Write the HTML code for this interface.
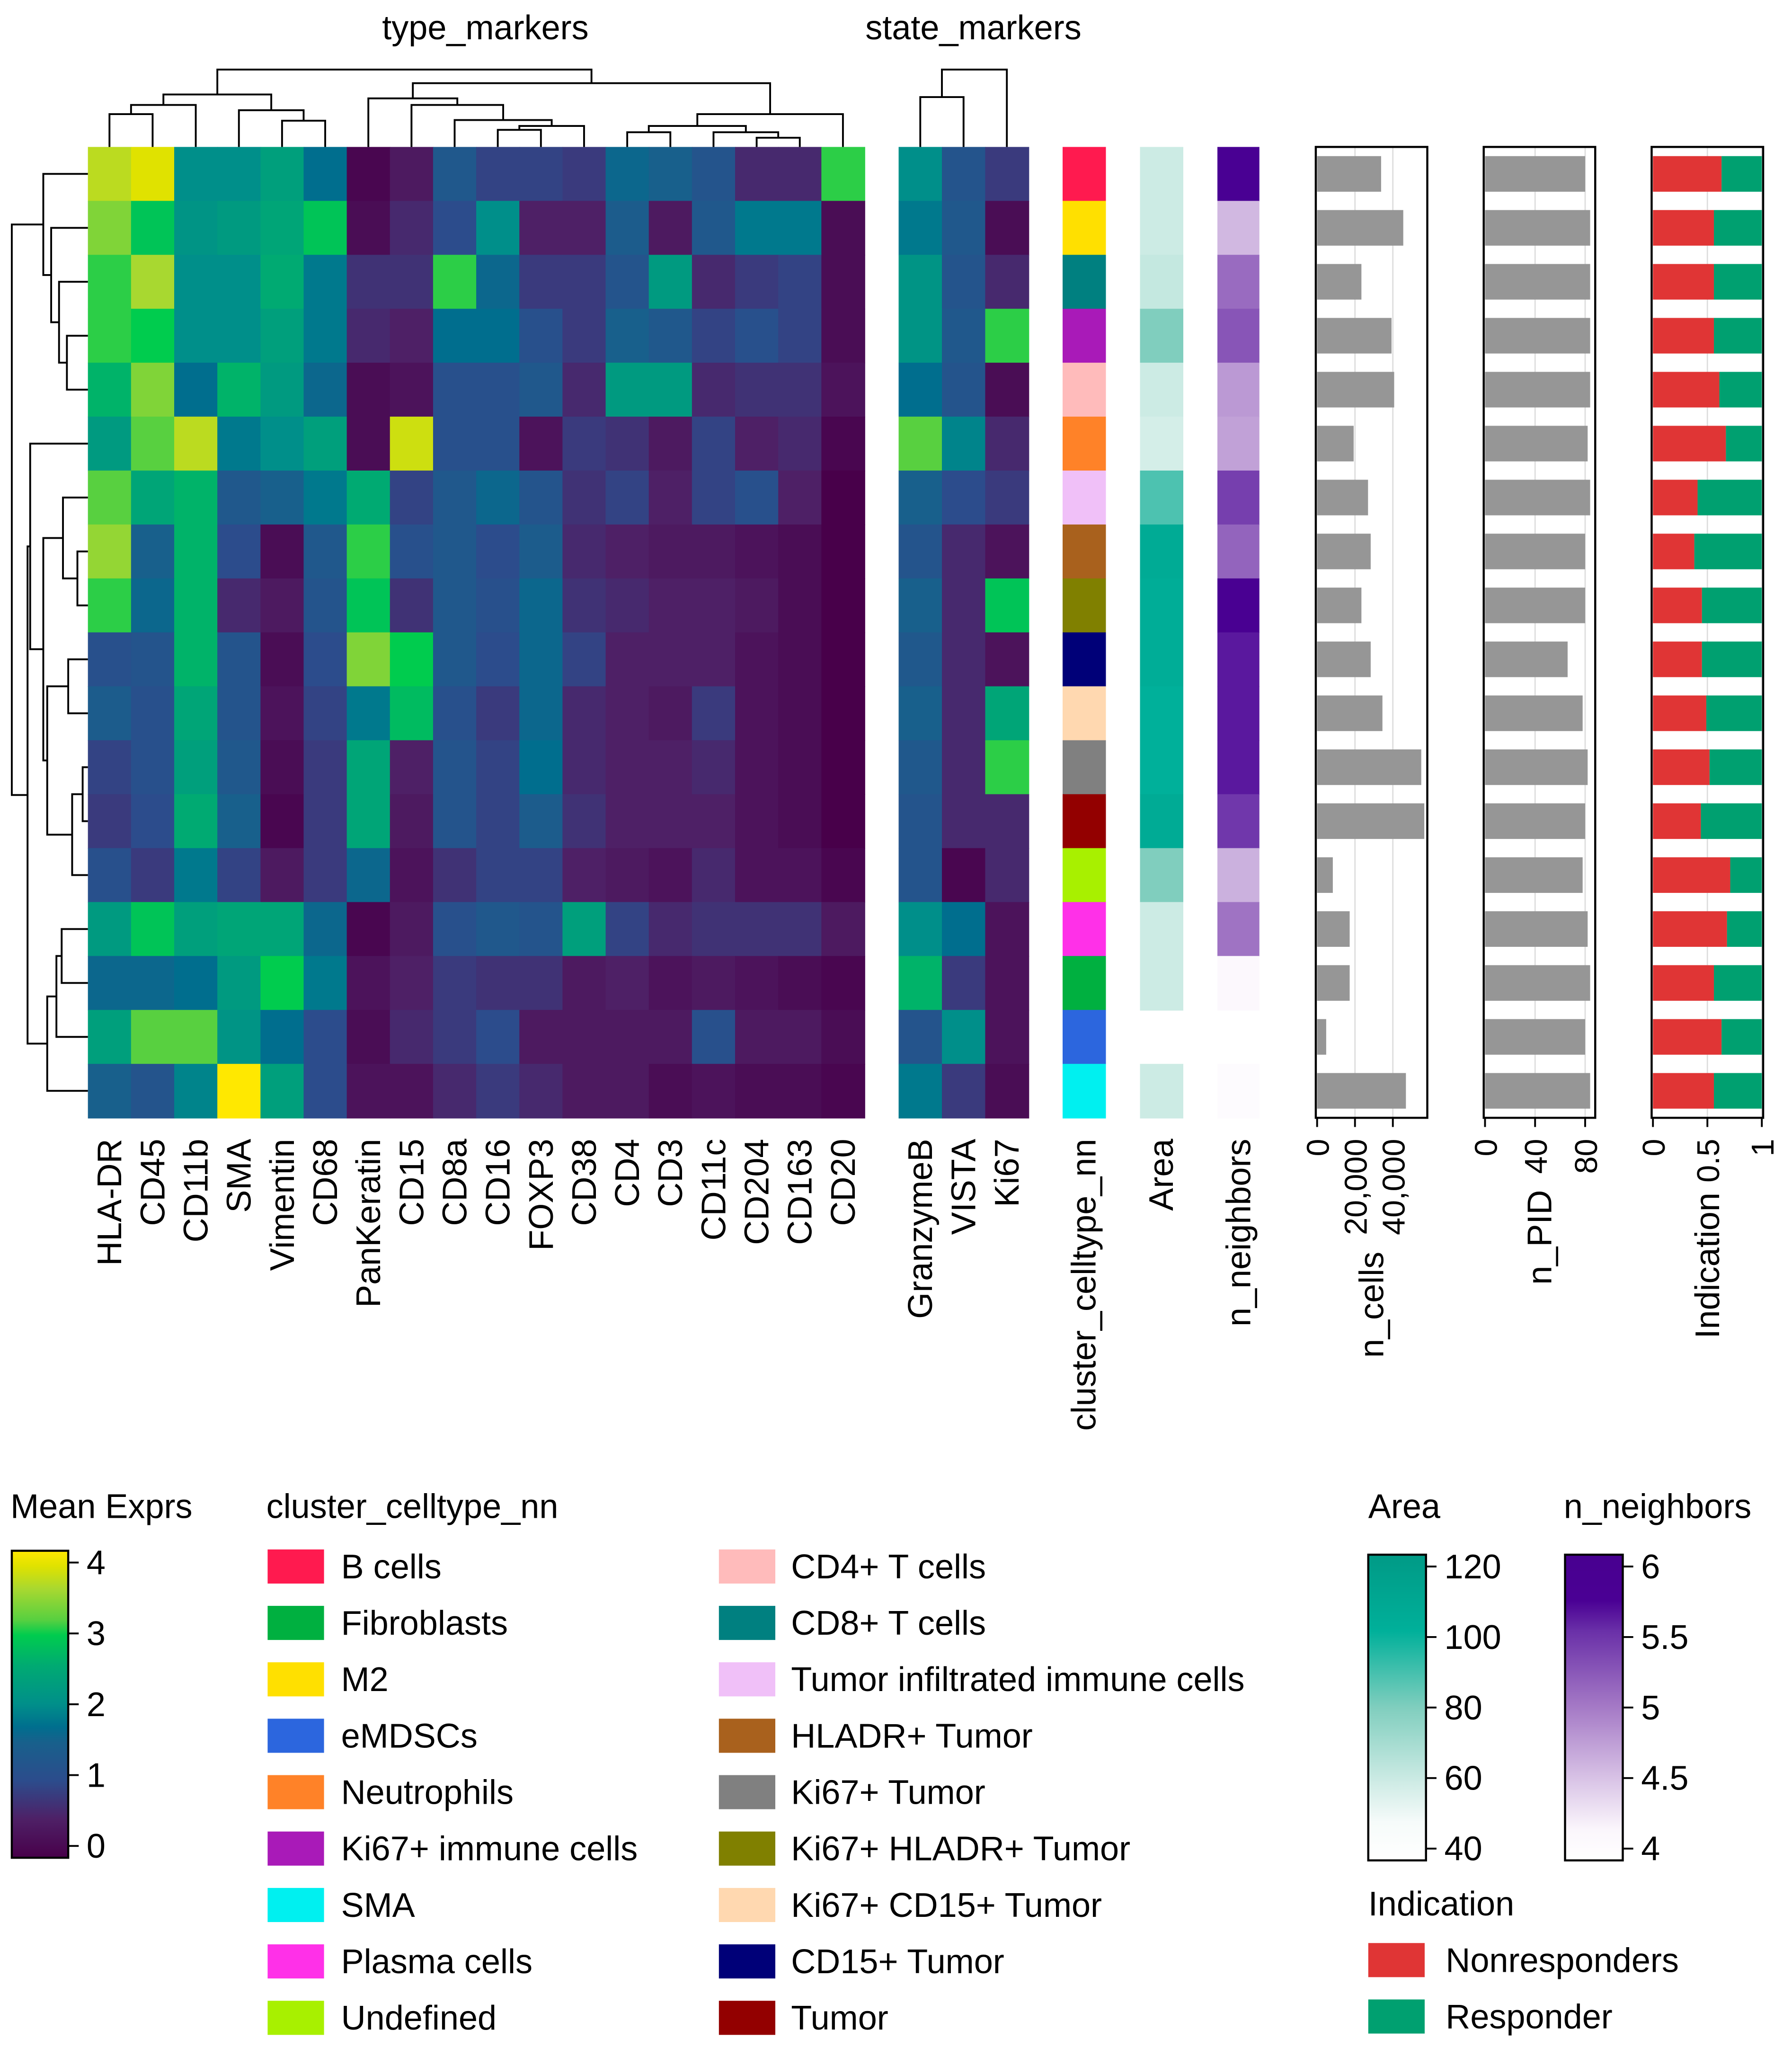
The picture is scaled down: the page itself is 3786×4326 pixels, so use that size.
<!DOCTYPE html>
<html><head><meta charset="utf-8"><style>
html,body{margin:0;padding:0;background:#fff}
svg{display:block}
text{font-family:"Liberation Sans",sans-serif;fill:#000}
</style></head><body>
<svg id="chart" width="3786" height="4326" viewBox="0 0 1366 1561" preserveAspectRatio="none" xmlns="http://www.w3.org/2000/svg">
<g id="root"></g>
</svg>
<script>
const typeMarkers = ["HLA-DR","CD45","CD11b","SMA","Vimentin","CD68","PanKeratin","CD15","CD8a","CD16","FOXP3","CD38","CD4","CD3","CD11c","CD204","CD163","CD20"];
const stateMarkers = ["GranzymeB","VISTA","Ki67"];
const clusters = ["B cells","M2","CD8+ T cells","Ki67+ immune cells","CD4+ T cells","Neutrophils","Tumor infiltrated immune cells","HLADR+ Tumor","Ki67+ HLADR+ Tumor","CD15+ Tumor","Ki67+ CD15+ Tumor","Ki67+ Tumor","Tumor","Undefined","Plasma cells","Fibroblasts","eMDSCs","SMA"];
const clusterColors = ["#ff1a4f","#ffe000","#008080","#a91ab8","#ffbbbb","#ff8228","#f0c0f8","#a9611d","#808000","#000078","#ffd8b0","#808080","#930000","#a8f000","#ff30e8","#00b040","#2c66de","#00f0f0"];
const typeValues = [
[3.6,3.8,2.0,2.0,2.3,1.7,0.1,0.4,1.3,0.9,0.9,0.8,1.6,1.5,1.2,0.6,0.6,3.0],
[3.3,2.8,2.1,2.2,2.4,2.8,0.2,0.6,1.0,2.0,0.5,0.5,1.4,0.4,1.3,1.8,1.8,0.2],
[3.0,3.5,2.0,2.0,2.5,1.8,0.7,0.7,3.0,1.6,0.8,0.8,1.2,2.2,0.6,0.8,0.9,0.2],
[3.0,2.9,2.0,2.0,2.3,1.8,0.6,0.5,1.7,1.7,1.1,0.8,1.5,1.3,0.9,1.1,0.9,0.2],
[2.6,3.3,1.7,2.6,2.2,1.6,0.2,0.3,1.1,1.1,1.3,0.6,2.2,2.2,0.6,0.7,0.7,0.3],
[2.2,3.1,3.6,1.8,2.0,2.3,0.2,3.7,1.1,1.1,0.3,0.8,0.7,0.4,0.9,0.5,0.6,0.1],
[3.1,2.4,2.6,1.3,1.5,1.8,2.5,0.9,1.3,1.6,1.2,0.7,0.9,0.5,0.9,1.1,0.5,0.0],
[3.4,1.5,2.6,1.0,0.2,1.3,3.0,1.1,1.3,1.0,1.4,0.6,0.5,0.4,0.4,0.3,0.2,0.0],
[3.0,1.6,2.6,0.6,0.4,1.2,2.8,0.7,1.3,1.1,1.6,0.7,0.6,0.5,0.5,0.4,0.2,0.0],
[1.1,1.2,2.6,1.2,0.2,1.0,3.3,2.9,1.3,1.0,1.6,0.9,0.5,0.5,0.5,0.3,0.2,0.0],
[1.4,1.1,2.4,1.2,0.3,0.9,1.8,2.7,1.1,0.8,1.6,0.6,0.5,0.4,0.8,0.3,0.2,0.0],
[0.9,1.1,2.3,1.3,0.2,0.8,2.4,0.5,1.2,0.9,1.7,0.6,0.5,0.5,0.6,0.3,0.2,0.0],
[0.8,1.0,2.5,1.5,0.1,0.8,2.4,0.4,1.2,0.9,1.4,0.7,0.5,0.5,0.5,0.3,0.2,0.0],
[1.1,0.8,1.8,0.9,0.4,0.8,1.6,0.3,0.7,0.9,0.9,0.5,0.4,0.3,0.6,0.3,0.3,0.1],
[2.2,2.8,2.3,2.4,2.4,1.6,0.1,0.4,1.1,1.3,1.2,2.3,0.9,0.6,0.7,0.7,0.7,0.4],
[1.6,1.6,1.7,2.2,2.9,1.8,0.3,0.5,0.8,0.7,0.7,0.4,0.5,0.3,0.4,0.3,0.2,0.1],
[2.3,3.1,3.1,2.1,1.7,1.0,0.2,0.6,0.8,1.0,0.4,0.4,0.4,0.4,1.1,0.4,0.4,0.2],
[1.5,1.2,1.9,4.0,2.3,1.0,0.3,0.3,0.6,0.8,0.6,0.4,0.4,0.2,0.3,0.2,0.2,0.1]];
const stateValues = [
[2.0,1.2,0.8],[1.8,1.3,0.2],[2.1,1.2,0.6],[2.1,1.3,3.0],[1.7,1.2,0.2],[3.1,1.9,0.6],
[1.5,1.0,0.8],[1.2,0.6,0.3],[1.5,0.6,2.8],[1.3,0.6,0.3],[1.5,0.6,2.4],[1.3,0.6,3.0],
[1.2,0.6,0.6],[1.2,0.1,0.6],[2.0,1.7,0.3],[2.6,0.8,0.3],[1.2,2.0,0.3],[1.8,0.8,0.2]];
const areaValues = [61,61,63,80,61,59,88,105,103,103,100,100,105,80,61,61,null,61];
const neighborValues = [5.8,4.6,5.1,5.25,4.8,4.75,5.4,5.15,5.85,5.6,5.6,5.6,5.45,4.65,5.05,4.15,null,4.1];
const nCells = [33800,45500,23400,39300,40700,19300,26900,28300,23400,28300,34500,55000,56600,8300,17200,17200,4800,46900];
const nPID = [80,84,84,84,84,82,84,80,80,66,78,82,80,78,82,84,80,84];
const nonresponderFrac = [0.63,0.56,0.56,0.56,0.61,0.67,0.41,0.38,0.45,0.45,0.49,0.52,0.44,0.71,0.68,0.56,0.63,0.56];
const nCellsTicks = [0,20000,40000];
const nCellsTickLabels = ["0","20,000","40,000"];
const nPIDTicks = [0,40,80];
const nPIDTickLabels = ["0","40","80"];
const indTicks = [0,0.5,1];
const indTickLabels = ["0","0.5","1"];
const exprTicks = [0,1,2,3,4];
const areaTicks = [40,60,80,100,120];
const nbTicks = [4,4.5,5,5.5,6];
const nbTickLabels = ["4","4.5","5","5.5","6"];
const legendLeft = ["B cells","Fibroblasts","M2","eMDSCs","Neutrophils","Ki67+ immune cells","SMA","Plasma cells","Undefined"];
const legendRight = ["CD4+ T cells","CD8+ T cells","Tumor infiltrated immune cells","HLADR+ Tumor","Ki67+ Tumor","Ki67+ HLADR+ Tumor","Ki67+ CD15+ Tumor","CD15+ Tumor","Tumor"];

const NS="http://www.w3.org/2000/svg";
const root=document.getElementById('root');
function el(tag,attrs,parent,txt){const e=document.createElementNS(NS,tag);for(const k in attrs)e.setAttribute(k,attrs[k]);if(txt!==undefined)e.textContent=txt;(parent||root).appendChild(e);return e;}
function hex(h){return [parseInt(h.slice(1,3),16),parseInt(h.slice(3,5),16),parseInt(h.slice(5,7),16)];}
function cmap(stops){return v=>{if(v<=stops[0][0])return stops[0][1];for(let i=1;i<stops.length;i++){if(v<=stops[i][0]){const a=stops[i-1],b=stops[i];const t=(v-a[0])/(b[0]-a[0]);const c1=hex(a[1]),c2=hex(b[1]);return 'rgb('+c1.map((c,j)=>Math.round(c+(c2[j]-c)*t)).join(',')+')';}}return stops[stops.length-1][1];};}
const exprStops=[[0,"#48004a"],[0.5,"#4e2066"],[1,"#2c4c8c"],[1.5,"#18608c"],[1.7,"#006e8e"],[2,"#008f8a"],[2.5,"#00aa72"],[2.9,"#00cc4e"],[3.1,"#58d040"],[3.5,"#a8d830"],[3.8,"#e0e200"],[4,"#ffe800"]];
const areaStops=[[40,"#ffffff"],[50,"#f6fbfa"],[60,"#d0ece6"],[80,"#80cebe"],[100,"#00b09a"],[120,"#009a86"]];
const nbStops=[[4,"#ffffff"],[4.2,"#fbf6fc"],[4.5,"#dcc8e8"],[5,"#a57ac6"],[5.5,"#6a30a8"],[5.7,"#4a0094"],[6,"#480090"]];
const exprC=cmap(exprStops),areaC=cmap(areaStops),nbC=cmap(nbStops);

const HX0=67,HX1=659,HY0=112,HY1=852,NR=clusters.length;
const cw=(HX1-HX0)/typeMarkers.length, rh=(HY1-HY0)/NR;
const rowY=i=>HY0+i*rh;
const colX=j=>HX0+j*cw;
const SX0=685,scw=33;
const stX=j=>SX0+j*scw;

el('text',{x:370,y:30,'font-size':26,'text-anchor':'middle',},root,'type_markers');
el('text',{x:742,y:30,'font-size':26,'text-anchor':'middle',},root,'state_markers');

const hm=el('g',{});
typeValues.forEach((row,i)=>row.forEach((v,j)=>{
  const r=el('rect',{x:colX(j),y:rowY(i),width:cw+0.5,height:rh+0.5,fill:exprC(v)},hm);
  
  
}));
const sm=el('g',{});
stateValues.forEach((row,i)=>row.forEach((v,j)=>{
  const r=el('rect',{x:stX(j),y:rowY(i),width:scw+0.5,height:rh+0.5,fill:exprC(v)},sm);
  
  
}));
const ann=el('g',{});
clusterColors.forEach((c,i)=>{
  const r=el('rect',{x:810,y:rowY(i),width:33,height:rh+0.5,fill:c},ann);
  
  
});
areaValues.forEach((v,i)=>{ if(v===null)return;
  const r=el('rect',{x:869,y:rowY(i),width:33,height:rh+0.5,fill:areaC(v)},ann);
  
  
});
neighborValues.forEach((v,i)=>{ if(v===null)return;
  const r=el('rect',{x:928,y:rowY(i),width:32,height:rh+0.5,fill:nbC(v)},ann);
  
  
});

function vlabel(x,yEnd,txt,name,size){
  const t=el('text',{transform:`translate(${x},${yEnd}) rotate(-90)`,'font-size':size||26,'text-anchor':'end'},root,txt);
  
  
  return t;
}
typeMarkers.forEach((m,j)=>vlabel(colX(j)+cw/2+9,868,m,'column-label'));
stateMarkers.forEach((m,j)=>vlabel(stX(j)+scw/2+9,868,m,'column-label'));
vlabel(826+9,868,'cluster_celltype_nn','annotation-label');
vlabel(885+9,868,'Area','annotation-label');
vlabel(944+9,868,'n_neighbors','annotation-label');

function panel(x0,x1,scaleMax,values,ticks,tickLabels,title,titleTop,name,stacked){
  const g=el('g',{});
  const xs=v=>x0+1+(v/scaleMax)*(x1-x0-2);
  ticks.forEach(t=>{ if(t===0)return; el('line',{x1:xs(t),x2:xs(t),y1:HY0,y2:HY1,stroke:'#dddddd','stroke-width':1},g);});
  values.forEach((v,i)=>{
    const y=rowY(i)+rh*0.17, h=rh*0.66;
    if(stacked){
      const r1=el('rect',{x:xs(0),y:y,width:xs(v)-xs(0),height:h,fill:'#e03535'},g);
      
      
      const r2=el('rect',{x:xs(v),y:y,width:xs(1)-xs(v),height:h,fill:'#00a070'},g);
      
      
    } else {
      const r=el('rect',{x:xs(0),y:y,width:xs(v)-xs(0),height:h,fill:'#969696'},g);
      
      
    }
  });
  el('rect',{x:x0,y:HY0,width:x1-x0,height:HY1-HY0,fill:'none',stroke:'#000','stroke-width':1.6},g);
  ticks.forEach((t,k)=>{
    el('line',{x1:xs(t),x2:xs(t),y1:HY1,y2:HY1+7,stroke:'#000','stroke-width':1.4},g);
    const tl=el('text',{transform:`translate(${xs(t)+9},868) rotate(-90)`,'font-size':24,'text-anchor':'end'},g,tickLabels[k]);
    
    
  });
  const tt=el('text',{transform:`translate(${(x0+x1)/2+9},${titleTop}) rotate(-90)`,'font-size':26,'text-anchor':'end'},g,title);
  
  
}
panel(1003,1088,57500,nCells,nCellsTicks,nCellsTickLabels,'n_cells',954,'n-cells-panel',false);
panel(1131,1216,87,nPID,nPIDTicks,nPIDTickLabels,'n_PID',907,'n-pid-panel',false);
panel(1259,1344,1,nonresponderFrac,indTicks,indTickLabels,'Indication',909,'indication-panel',true);

function drawTree(node,pos,orient,g){
  if(typeof node==='number') return [pos(node),orient.leaf];
  const a=drawTree(node[0],pos,orient,g), b=drawTree(node[1],pos,orient,g), h=node[2];
  let d;
  if(orient.top) d=`M${a[0]},${a[1]}V${h}H${b[0]}V${b[1]}`;
  else d=`M${a[1]},${a[0]}H${h}V${b[0]}H${b[1]}`;
  el('path',{d:d,fill:'none',stroke:'#000','stroke-width':1.4},g);
  return [(a[0]+b[0])/2,h];
}
const topTree=[[[[0,1,87],2,80],[3,[4,5,92],84],72],[[6,[7,[8,[[9,10,99],11,96],91.5],80],75],[[[12,13,100.8],[14,[15,16,105],100.8],96],17,87],63.4],53];
const g1=el('g',{});
drawTree(topTree,j=>colX(j)+cw/2,{top:true,leaf:HY0},g1);
const stateTree=[[0,1,74],2,53];
const g2=el('g',{});
drawTree(stateTree,j=>stX(j)+scw/2,{top:true,leaf:HY0},g2);
const leftTree=[[0,[1,[2,[3,4,51],45],39],33],[[5,[[6,[7,8,59],48],[[9,10,52],[[11,12,63],13,55],36],33],23],[[[14,15,47],16,43],17,36],21],9];
const g3=el('g',{});
drawTree(leftTree,i=>rowY(i)+rh/2,{top:false,leaf:HX0},g3);

function colorbar(x,y0,y1,w,stops,ticks,labels,title,tx,name){
  const g=el('g',{});
  const id='grad'+name;
  const defs=el('defs',{},g);
  const lg=el('linearGradient',{id:id,x1:0,y1:1,x2:0,y2:0},defs);
  const lo=stops[0][0],hi=stops[stops.length-1][0];
  stops.forEach(s=>el('stop',{offset:(s[0]-lo)/(hi-lo),'stop-color':s[1]},lg));
  const t=el('text',{x:tx,y:1157,'font-size':26},g,title);
  
  
  el('rect',{x:x,y:y0,width:w,height:y1-y0,fill:`url(#${id})`,stroke:'#000','stroke-width':1.6},g);
  const tickTop=y0+9,tickBot=y1-9;
  ticks.forEach((v,k)=>{
    const yy=tickBot-(v-lo)/(hi-lo)*(tickBot-tickTop);
    el('line',{x1:x+w,x2:x+w+8,y1:yy,y2:yy,stroke:'#000','stroke-width':1.4},g);
    const tl=el('text',{x:x+w+14,y:yy+9,'font-size':26},g,labels[k]);
    
    
  });
}
colorbar(9,1182,1416,43,exprStops,exprTicks,exprTicks.map(String),'Mean Exprs',8,'mean-exprs-colorbar');
colorbar(1043,1185,1418,44,areaStops,areaTicks,areaTicks.map(String),'Area',1043,'area-colorbar');
colorbar(1193,1185,1418,44,nbStops,nbTicks,nbTickLabels,'n_neighbors',1192,'n-neighbors-colorbar');

const lg=el('g',{});
const lt=el('text',{x:203,y:1157,'font-size':26},lg,'cluster_celltype_nn');


function entries(list,sx,tx){
  list.forEach((name,k)=>{
    const y=1181+k*43;
    const c=clusterColors[clusters.indexOf(name)];
    const e=el('g',{},lg);
    
    
    el('rect',{x:sx,y:y,width:43,height:26,fill:c},e);
    el('text',{x:tx,y:y+22,'font-size':26},e,name);
  });
}
entries(legendLeft,204,260);
entries(legendRight,548,603);

const ig=el('g',{});
el('text',{x:1043,y:1460,'font-size':26},ig,'Indication');
[['Nonresponders','#e03535'],['Responder','#00a070']].forEach((p,k)=>{
  const y=1481+k*43;
  const e=el('g',{},ig);
  
  
  el('rect',{x:1043,y:y,width:43,height:26,fill:p[1]},e);
  el('text',{x:1102,y:y+22,'font-size':26},e,p[0]);
});
</script>
</body></html>
